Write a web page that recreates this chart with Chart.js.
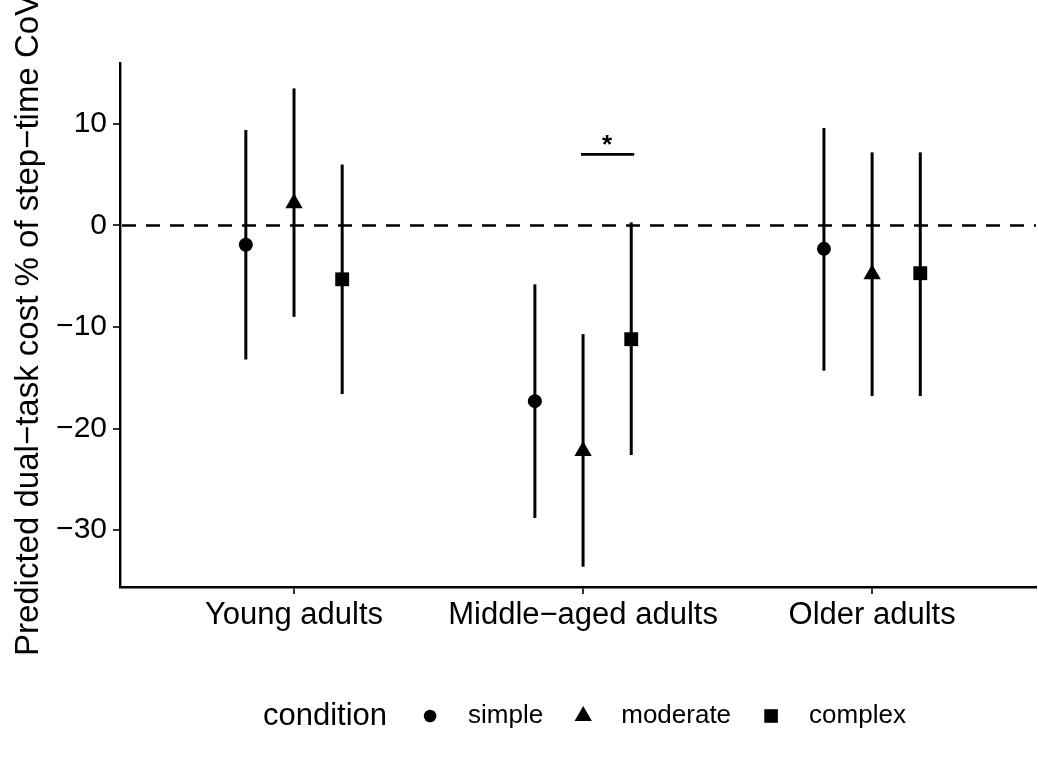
<!DOCTYPE html>
<html>
<head>
<meta charset="utf-8">
<script src="https://cdn.jsdelivr.net/npm/chart.js@4"></script>
<style>
    html, body { margin: 0; padding: 0; background: #fff; }
    #wrap { width: 1038px; height: 761px; }
</style>
</head>
<body>
<div id="wrap"><canvas id="myChart" width="1038" height="761"></canvas></div>
<script>
// data
const groups = ['Young adults', 'Middle\u2212aged adults', 'Older adults'];
const conditions = ['simple', 'moderate', 'complex'];
const yTicks = [-30, -20, -10, 0, 10];

const simpleEst = [-1.9, -17.3, -2.3];
const simpleLow = [-13.2, -28.8, -14.3];
const simpleHigh = [9.4, -5.8, 9.6];

const moderateEst = [2.2, -22.2, -4.8];
const moderateLow = [-9.0, -33.6, -16.8];
const moderateHigh = [13.5, -10.7, 7.2];

const complexEst = [-5.3, -11.2, -4.7];
const complexLow = [-16.6, -22.6, -16.8];
const complexHigh = [6.0, 0.3, 7.2];

// significance bracket between moderate and complex in middle-aged group
const sigGroup = 2;
const sigFrom = 'moderate';
const sigTo = 'complex';
const sigY = 7.0;
const sigLabel = '*';

const dodge = {simple: -1 / 6, moderate: 0, complex: 1 / 6};
const FONT = "'Liberation Sans', Arial, Helvetica, sans-serif";

const series = [
    {name: 'simple', est: simpleEst, low: simpleLow, high: simpleHigh, style: 'circle', radius: 7},
    {name: 'moderate', est: moderateEst, low: moderateLow, high: moderateHigh, style: 'triangle', radius: 10},
    {name: 'complex', est: complexEst, low: complexLow, high: complexHigh, style: 'rect', radius: 9.8}
];

function minusFmt(v) {
    return v < 0 ? '\u2212' + Math.abs(v) : String(v);
}

const errorBars = {
    id: 'errorBars',
    beforeDatasetsDraw(chart) {
        const {ctx, chartArea, scales: {x, y}} = chart;
        ctx.save();
        // dashed zero line
        ctx.strokeStyle = '#000';
        ctx.lineWidth = 2.6;
        ctx.setLineDash([14, 10]);
        const y0 = y.getPixelForValue(0);
        ctx.beginPath();
        ctx.moveTo(chartArea.left + 2, y0);
        ctx.lineTo(chartArea.right, y0);
        ctx.stroke();
        ctx.setLineDash([]);

        // vertical intervals
        ctx.lineWidth = 3;
        series.forEach(s => {
            s.est.forEach((_, i) => {
                const px = x.getPixelForValue(i + 1 + dodge[s.name]);
                ctx.beginPath();
                ctx.moveTo(px, y.getPixelForValue(s.low[i]));
                ctx.lineTo(px, y.getPixelForValue(s.high[i]));
                ctx.stroke();
            });
        });
        ctx.restore();
    },
    afterDatasetsDraw(chart) {
        const {ctx, scales: {x, y}} = chart;
        ctx.save();
        const x1 = x.getPixelForValue(sigGroup + dodge[sigFrom]);
        const x2 = x.getPixelForValue(sigGroup + dodge[sigTo]);
        const py = y.getPixelForValue(sigY);
        ctx.strokeStyle = '#000';
        ctx.lineWidth = 2.7;
        ctx.beginPath();
        ctx.moveTo(x1 - 2, py);
        ctx.lineTo(x2 + 3, py);
        ctx.stroke();
        ctx.fillStyle = '#000';
        ctx.font = 'bold 26px ' + FONT;
        ctx.textAlign = 'center';
        ctx.textBaseline = 'alphabetic';
        ctx.fillText(sigLabel, (x1 + x2) / 2, py - 1);
        ctx.restore();
    }
};

function drawSymbol(ctx, style, cx, cy) {
    ctx.beginPath();
    if (style === 'circle') {
        ctx.arc(cx, cy, 6.3, 0, Math.PI * 2);
    } else if (style === 'triangle') {
        const r = 10;
        ctx.moveTo(cx, cy - r);
        ctx.lineTo(cx + r * 0.866, cy + r / 2);
        ctx.lineTo(cx - r * 0.866, cy + r / 2);
        ctx.closePath();
    } else {
        ctx.rect(cx - 6.8, cy - 6.8, 13.6, 13.6);
    }
    ctx.fill();
}

const bottomLegend = {
    id: 'bottomLegend',
    afterDraw(chart) {
        const {ctx} = chart;
        const cy = 716;
        ctx.save();
        ctx.fillStyle = '#000';
        ctx.textBaseline = 'middle';
        ctx.textAlign = 'left';
        let cx = 263;
        ctx.font = '31px ' + FONT;
        ctx.fillText('condition', cx, cy);
        cx += ctx.measureText('condition').width + 43;
        ctx.font = '26px ' + FONT;
        series.forEach(s => {
            drawSymbol(ctx, s.style, cx, cy);
            cx += 38;
            ctx.fillText(s.name, cx, cy);
            cx += ctx.measureText(s.name).width + 40;
        });
        ctx.restore();
    }
};

const ctx = document.getElementById('myChart').getContext('2d');

new Chart(ctx, {
    type: 'scatter',
    data: {
        datasets: series.map(s => ({
            label: s.name,
            data: s.est.map((v, i) => ({x: i + 1 + dodge[s.name], y: v})),
            pointStyle: s.style,
            pointRadius: s.radius,
            pointBorderWidth: 0,
            backgroundColor: '#000',
            borderColor: '#000'
        }))
    },
    plugins: [errorBars, bottomLegend],
    options: {
        responsive: false,
        animation: false,
        events: [],
        layout: {
            autoPadding: false,
            padding: {top: 63, right: 2, left: 0, bottom: 0}
        },
        plugins: {
            legend: {display: false},
            tooltip: {enabled: false}
        },
        scales: {
            x: {
                type: 'linear',
                min: 0.398,
                max: 3.567,
                afterBuildTicks: (scale) => {
                    scale.ticks = groups.map((g, i) => ({value: i + 1}));
                },
                afterFit: (scale) => {
                    scale.height = 174;
                    scale.paddingLeft = 0;
                    scale.paddingRight = 0;
                },
                ticks: {
                    callback: (v) => groups[v - 1],
                    font: {family: FONT, size: 31},
                    color: '#000',
                    padding: 3,
                    autoSkip: false,
                    maxRotation: 0
                },
                grid: {
                    drawOnChartArea: false,
                    drawTicks: true,
                    tickLength: 7,
                    color: '#333',
                    lineWidth: 2
                },
                border: {display: true, color: '#000', width: 2.4}
            },
            y: {
                min: -35.6,
                max: 16.0,
                afterBuildTicks: (scale) => {
                    scale.ticks = yTicks.map(v => ({value: v}));
                },
                afterFit: (scale) => {
                    scale.width = 120;
                },
                ticks: {
                    callback: (v) => minusFmt(v),
                    font: {family: FONT, size: 30},
                    color: '#000',
                    padding: 6
                },
                grid: {
                    drawOnChartArea: false,
                    drawTicks: true,
                    tickLength: 7,
                    color: '#333',
                    lineWidth: 2
                },
                border: {display: true, color: '#000', width: 2.4},
                title: {
                    display: true,
                    text: 'Predicted dual\u2212task cost % of step\u2212time CoV',
                    font: {family: FONT, size: 33},
                    color: '#000',
                    padding: {top: 9, bottom: 0}
                }
            }
        }
    }
});
</script>
</body>
</html>
